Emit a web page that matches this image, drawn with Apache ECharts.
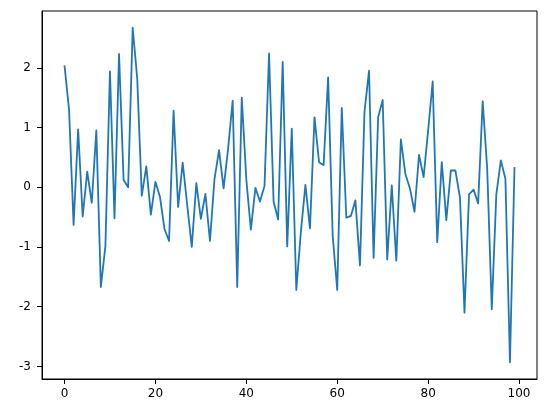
<!DOCTYPE html>
<html>
<head>
<meta charset="utf-8">
<script src="https://cdn.jsdelivr.net/npm/echarts@6/dist/echarts.min.js"></script>
<style>
html,body{margin:0;padding:0;background:#fff;}
#chart{width:546px;height:413px;}
</style>
</head>
<body>
<div id="chart"></div>
<script>
const values = [
  2.04, 1.30, -0.63, 0.97, -0.49, 0.26, -0.26, 0.95, -1.67, -0.98,
  1.94, -0.52, 2.23, 0.12, 0.00, 2.67, 1.82, -0.14, 0.35, -0.46,
  0.09, -0.16, -0.70, -0.90, 1.28, -0.33, 0.41, -0.30, -1.00, 0.07,
  -0.53, -0.11, -0.90, 0.14, 0.62, -0.02, 0.65, 1.45, -1.67, 1.50,
  0.13, -0.71, -0.01, -0.24, 0.02, 2.24, -0.24, -0.54, 2.10, -0.99,
  0.98, -1.72, -0.75, 0.04, -0.69, 1.17, 0.42, 0.37, 1.84, -0.81,
  -1.72, 1.33, -0.51, -0.48, -0.22, -1.31, 1.27, 1.95, -1.18, 1.17,
  1.46, -1.21, 0.03, -1.23, 0.80, 0.22, -0.02, -0.41, 0.54, 0.17,
  0.95, 1.77, -0.92, 0.42, -0.55, 0.28, 0.28, -0.17, -2.10, -0.12,
  -0.04, -0.27, 1.44, 0.30, -2.04, -0.12, 0.45, 0.14, -2.93, 0.34
];
const xIndex = values.map((v, i) => i);
const xTicks = [0, 20, 40, 60, 80, 100];
const yTicks = [-3, -2, -1, 0, 1, 2];

const chart = echarts.init(document.getElementById('chart'), null, {renderer: 'canvas'});
const labelStyle = {color: '#000', fontFamily: 'DejaVu Sans', fontSize: 12};
chart.setOption({
  animation: false,
  backgroundColor: '#fff',
  grid: {left: 42, right: 9, top: 11, bottom: 34, show: true, borderColor: '#000', borderWidth: 1, backgroundColor: 'transparent'},
  xAxis: {
    type: 'value', min: -4.95, max: 103.95,
    axisLine: {show: true, onZero: false, lineStyle: {color: '#000', width: 1}},
    axisTick: {show: true, length: 5, inside: false, lineStyle: {color: '#000', width: 1}, customValues: xTicks},
    axisLabel: Object.assign({margin: 9, customValues: xTicks}, labelStyle),
    splitLine: {show: false}
  },
  yAxis: {
    type: 'value', min: -3.21, max: 2.95,
    axisLine: {show: true, onZero: false, lineStyle: {color: '#000', width: 1}},
    axisTick: {show: true, length: 5, inside: false, lineStyle: {color: '#000', width: 1}, customValues: yTicks},
    axisLabel: Object.assign({margin: 11, customValues: yTicks}, labelStyle),
    splitLine: {show: false}
  },
  series: [{
    type: 'line',
    data: xIndex.map((x, i) => [x, values[i]]),
    showSymbol: false,
    symbol: 'none',
    lineStyle: {color: '#1f77b4', width: 1.8, join: 'round', cap: 'butt'},
    clip: true
  }]
});
</script>
</body>
</html>
